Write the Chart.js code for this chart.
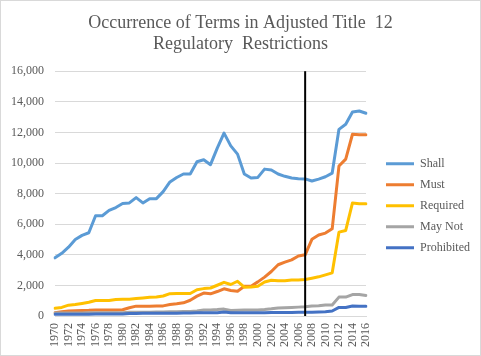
<!DOCTYPE html>
<html>
<head>
<meta charset="utf-8">
<script src="https://cdn.jsdelivr.net/npm/chart.js@4.4.1/dist/chart.umd.min.js"></script>
<style>
  html, body { margin: 0; padding: 0; background: #ffffff; }
  #wrap { width: 481px; height: 356px; position: relative; }
  canvas { display: block; }
</style>
</head>
<body>
<div id="wrap"><canvas id="c" width="481" height="356"></canvas></div>
<script>
const years = ['1970','1971','1972','1973','1974','1975','1976','1977','1978','1979',
  '1980','1981','1982','1983','1984','1985','1986','1987','1988','1989',
  '1990','1991','1992','1993','1994','1995','1996','1997','1998','1999',
  '2000','2001','2002','2003','2004','2005','2006','2007','2008','2009',
  '2010','2011','2012','2013','2014','2015','2016'];

const shall = [3800, 4100, 4500, 5000, 5270, 5440, 6550, 6550, 6900, 7090,
  7350, 7390, 7740, 7390, 7670, 7670, 8130, 8760, 9050, 9280,
  9280, 10080, 10210, 9890, 10970, 11950, 11120, 10580, 9280, 9020,
  9060, 9600, 9540, 9280, 9130, 9020, 8975, 8960, 8820, 8950,
  9100, 9340, 12200, 12530, 13330, 13400, 13250];

const must = [215, 280, 320, 345, 365, 370, 390, 390, 390, 395,
  410, 540, 645, 645, 645, 660, 660, 750, 800, 860,
  1030, 1300, 1500, 1450, 1600, 1780, 1670, 1620, 1940, 1950,
  2230, 2540, 2910, 3350, 3520, 3670, 3920, 4000, 5010, 5290,
  5420, 5700, 9800, 10250, 11880, 11840, 11840];

const required = [500, 560, 710, 750, 820, 900, 1010, 1010, 1010, 1075,
  1100, 1100, 1140, 1180, 1225, 1240, 1310, 1460, 1470, 1470,
  1470, 1720, 1790, 1830, 2010, 2200, 2060, 2270, 1880, 1890,
  1950, 2220, 2340, 2300, 2300, 2350, 2360, 2390, 2470, 2560,
  2690, 2820, 5480, 5590, 7390, 7330, 7330];

const mayNot = [190, 195, 200, 200, 200, 205, 210, 210, 210, 215,
  220, 240, 245, 250, 250, 255, 260, 280, 285, 290,
  300, 320, 390, 400, 420, 450, 360, 380, 390, 395,
  400, 430, 470, 520, 540, 560, 580, 600, 650, 670,
  715, 715, 1235, 1235, 1400, 1400, 1345];

const prohibited = [110, 110, 115, 115, 120, 120, 125, 125, 125, 130,
  130, 170, 170, 175, 175, 180, 180, 185, 185, 190,
  190, 215, 215, 215, 215, 260, 220, 220, 220, 220,
  220, 220, 225, 225, 230, 230, 240, 240, 240, 260,
  280, 325, 560, 560, 650, 630, 630];

const seriesNames = ['Shall', 'Must', 'Required', 'May Not', 'Prohibited'];
const seriesColors = ['#5B9BD5', '#ED7D31', '#FFC000', '#A5A5A5', '#4472C4'];
const titleLines = ['Occurrence of Terms in Adjusted Title  12', 'Regulatory  Restrictions'];
const markerYear = '2007';

const serif = "'Liberation Serif', 'Times New Roman', serif";
const textGray = '#595959';

const seriesData = [shall, must, required, mayNot, prohibited];
const datasets = seriesData.map((d, i) => ({
  label: seriesNames[i],
  data: d,
  borderColor: seriesColors[i],
  backgroundColor: seriesColors[i],
  borderWidth: 3,
  pointRadius: 0,
  pointHoverRadius: 0,
  tension: 0,
  fill: false,
  borderJoinStyle: 'round',
  borderCapStyle: 'round',
  order: seriesNames.length - i
}));

const frame = {
  id: 'frame',
  beforeDraw(chart) {
    const ctx = chart.ctx;
    ctx.save();
    ctx.fillStyle = '#ffffff';
    ctx.fillRect(0, 0, chart.width, chart.height);
    ctx.strokeStyle = '#d9d9d9';
    ctx.lineWidth = 1;
    ctx.strokeRect(0.5, 0.5, chart.width - 1, chart.height - 1);
    ctx.restore();
  }
};

const marker = {
  id: 'marker',
  afterDatasetsDraw(chart) {
    const xs = chart.scales.x;
    const area = chart.chartArea;
    const idx = years.indexOf(markerYear);
    const px = xs.getPixelForValue(idx);
    const ctx = chart.ctx;
    ctx.save();
    ctx.strokeStyle = '#000000';
    ctx.lineWidth = 2;
    ctx.beginPath();
    ctx.moveTo(px, area.top);
    ctx.lineTo(px, area.bottom);
    ctx.stroke();
    ctx.restore();
  }
};

const legendTune = {
  id: 'legendTune',
  afterInit(chart) {
    const lg = chart.legend;
    if (lg && !lg._tuned) {
      const origFit = lg.fit;
      lg.fit = function () {
        origFit.call(this);
        this.width = 115;
      };
      lg._tuned = true;
    }
  },
  afterLayout(chart) {
    const lg = chart.legend;
    if (lg) { lg.left += 11; lg.right += 11; }
  }
};

new Chart(document.getElementById('c'), {
  type: 'line',
  data: { labels: years, datasets: datasets },
  plugins: [frame, marker, legendTune],
  options: {
    responsive: false,
    animation: false,
    events: [],
    layout: { padding: { left: 0, right: 0, top: 0, bottom: 2 } },
    plugins: {
      title: {
        display: true,
        text: titleLines,
        color: textGray,
        font: { family: serif, size: 18, weight: 'normal', lineHeight: 1.2 },
        padding: { top: 12, bottom: 16 }
      },
      legend: {
        display: true,
        position: 'right',
        fullSize: false,
        align: 'center',
        title: { display: true, text: '', font: { size: 12, lineHeight: 1.2 }, padding: 5 },
        labels: {
          color: textGray,
          font: { family: serif, size: 12 },
          boxWidth: 28,
          boxHeight: 3,
          padding: 9,
          sort: (a, b) => a.datasetIndex - b.datasetIndex,
          generateLabels(chart) {
            const items = Chart.defaults.plugins.legend.labels.generateLabels(chart);
            return items.map(it => Object.assign(it, { lineWidth: 0 }));
          }
        }
      },
      tooltip: { enabled: false }
    },
    scales: {
      x: {
        type: 'category',
        offset: false,
        grid: { display: false, drawTicks: false },
        border: { display: true, color: '#d9d9d9' },
        ticks: {
          autoSkip: false,
          minRotation: 90,
          maxRotation: 90,
          padding: 7,
          color: textGray,
          font: { family: serif, size: 12 },
          callback: function (val, idx) { return idx % 2 === 0 ? years[idx] : ''; }
        }
      },
      y: {
        min: 0,
        max: 16000,
        grid: { color: '#d9d9d9', drawTicks: false },
        border: { display: false },
        ticks: {
          stepSize: 2000,
          padding: 11,
          color: textGray,
          font: { family: serif, size: 12 },
          callback: v => v.toLocaleString('en-US')
        }
      }
    }
  }
});
</script>
</body>
</html>
